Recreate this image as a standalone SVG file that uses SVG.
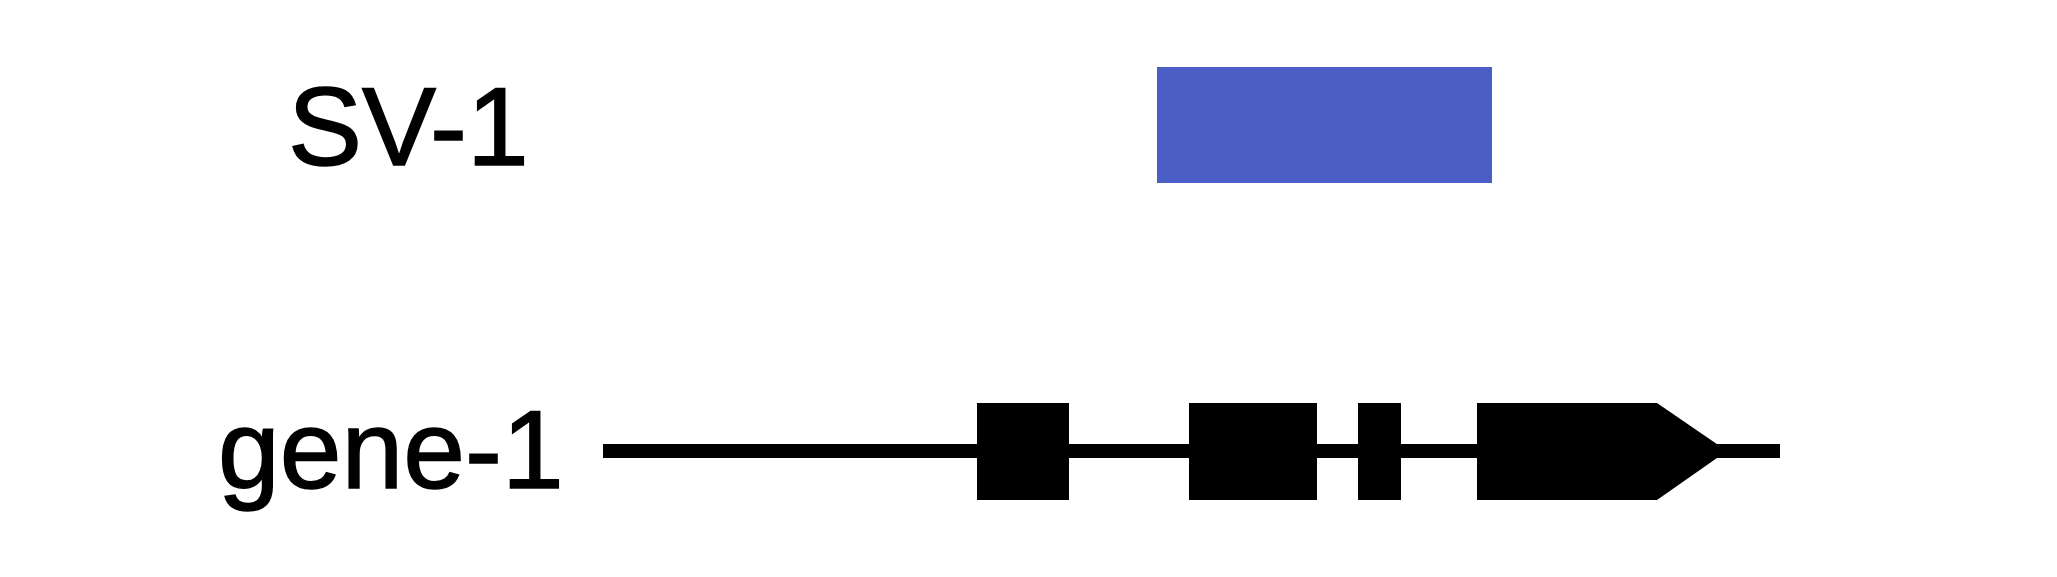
<svg xmlns="http://www.w3.org/2000/svg" width="2057" height="577" viewBox="0 0 2057 577">
<style>
.lbl{font-family:"Liberation Sans",Arial,sans-serif;font-size:111px;fill:#000;stroke:#000;stroke-width:1.5px}
.exon{fill:#000}
</style>
<rect width="2057" height="577" fill="#fff"/>
<g id="sv-1">
<text class="lbl" x="288" y="165">SV-1</text>
<rect x="1157" y="67" width="335" height="116" fill="#4a5ec6"/>
</g>
<g id="connectors">
<line x1="603" y1="451" x2="1780" y2="451" stroke="#000" stroke-width="14"/>
</g>
<g id="gene-1">
<text class="lbl" x="218" y="488">gene-1</text>
<rect class="exon" x="977" y="403" width="92" height="97"/>
<rect class="exon" x="1189" y="403" width="128" height="97"/>
<rect class="exon" x="1358" y="403" width="43" height="97"/>
<polygon class="exon" points="1477,403 1657,403 1727,451 1657,500 1477,500"/>
</g>
</svg>
